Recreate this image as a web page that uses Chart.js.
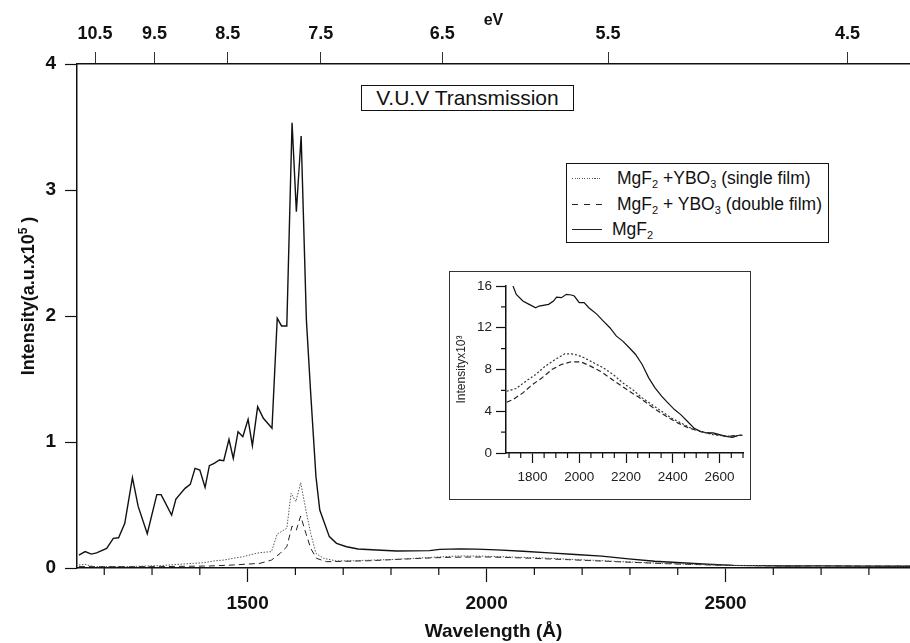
<!DOCTYPE html>
<html>
<head>
<meta charset="utf-8">
<script src="https://cdn.jsdelivr.net/npm/chart.js@4.4.1/dist/chart.umd.min.js"></script>
<style>
    body { margin: 0; background: #fff; }
    #wrap { position: relative; width: 910px; height: 643px; overflow: hidden; font-family: 'Liberation Sans', Arial, sans-serif; color: #111; }
    #main { position: absolute; left: 0; top: 0; }
    #y-title {
        position: absolute; left: 28px; top: 296px; width: 240px; height: 24px;
        margin-left: -120px; margin-top: -12px; transform: rotate(-90deg);
        font-size: 18px; font-weight: bold; line-height: 24px; text-align: center; white-space: nowrap;
    }
    #y-title sup { font-size: 12px; vertical-align: 7px; line-height: 0; }
    #title-box {
        position: absolute; left: 361px; top: 85px; width: 213px; height: 26px;
        box-sizing: border-box; border: 1.5px solid #111;
        font-size: 21px; line-height: 23px; text-align: center; background: #fff;
    }
    #legend {
        position: absolute; left: 566px; top: 163px; width: 263px; height: 80px;
        box-sizing: border-box; border: 1.5px solid #111; background: #fff;
    }
    #legend .row { position: absolute; left: 0; height: 20px; width: 100%; }
    #legend .sample { position: absolute; left: 5px; top: 10px; width: 30px; height: 1px; }
    #legend .txt { position: absolute; top: 0; font-size: 17.5px; line-height: 20px; white-space: nowrap; }
    #legend sub { font-size: 11px; vertical-align: -4px; line-height: 0; }
    .dotted { background: repeating-linear-gradient(to right, #555 0 1px, transparent 1px 2.5px); }
    .dashed { background: repeating-linear-gradient(to right, #222 0 6px, transparent 6px 12px); }
    .solid { background: #222; }
    #inset {
        position: absolute; left: 449px; top: 271px; width: 302px; height: 229px;
        box-sizing: border-box; border: 1.5px solid #333; background: #fff;
    }
    #insetChart { position: absolute; left: 0; top: 0; }
</style>
</head>
<body>
<div id="wrap">
    <canvas id="main" width="910" height="643"></canvas>
    <div id="y-title">Intensity(a.u.x10<sup>5</sup> )</div>
    <div id="title-box">V.U.V Transmission</div>
    <div id="legend">
        <div class="row" style="top:4px"><span class="sample dotted"></span><span class="txt" style="left:50px">MgF<sub>2</sub> +YBO<sub>3</sub> (single film)</span></div>
        <div class="row" style="top:30px"><span class="sample dashed"></span><span class="txt" style="left:50px">MgF<sub>2</sub> + YBO<sub>3</sub> (double film)</span></div>
        <div class="row" style="top:55px"><span class="sample solid"></span><span class="txt" style="left:45px">MgF<sub>2</sub></span></div>
    </div>
    <div id="inset"><canvas id="insetChart" width="299" height="226"></canvas></div>
</div>
<script>
// photon energy <-> wavelength (eV * Angstrom)
const HC = 12398;
const evTicks = [10.5, 9.5, 8.5, 7.5, 6.5, 5.5, 4.5];

// Main plot: wavelength (A) and intensity (a.u. x10^5)
const mgf2Wl = [1147, 1160, 1173, 1184, 1205, 1219, 1230, 1243, 1259, 1271, 1290, 1310, 1319, 1341, 1350,
    1369, 1380, 1390, 1400, 1411, 1420, 1430, 1441, 1450, 1461, 1470, 1480, 1490, 1501, 1510, 1521, 1533,
    1551, 1562, 1571, 1582, 1593, 1602, 1612, 1623, 1632, 1643, 1651, 1671, 1686, 1707, 1731, 1770, 1812,
    1881, 1902, 1945, 1979, 2021, 2076, 2131, 2186, 2241, 2297, 2352, 2407, 2462, 2517, 2572, 2628, 2697,
    2780, 2886];
const mgf2Int = [0.103, 0.13, 0.11, 0.12, 0.156, 0.235, 0.24, 0.354, 0.717, 0.489, 0.272, 0.582, 0.582, 0.42, 0.547,
    0.632, 0.664, 0.791, 0.778, 0.64, 0.812, 0.831, 0.857, 0.852, 1.021, 0.87, 1.082, 1.042, 1.18, 0.971, 1.281, 1.188,
    1.109, 1.982, 1.921, 1.921, 3.534, 2.828, 3.428, 1.968, 1.386, 0.725, 0.46, 0.249, 0.196, 0.169, 0.151, 0.143, 0.135,
    0.138, 0.148, 0.152, 0.150, 0.144, 0.133, 0.120, 0.107, 0.094, 0.072, 0.054, 0.042, 0.030, 0.021, 0.019, 0.016, 0.017,
    0.015, 0.014];

const singleWl = [1147, 1160, 1178, 1247, 1317, 1387, 1408, 1429, 1450, 1470, 1491, 1512, 1526, 1550, 1562,
    1582, 1591, 1601, 1611, 1622, 1632, 1643, 1659, 1686, 1721, 1805, 1902, 1938, 1966, 1993, 2021, 2062,
    2103, 2145, 2186, 2228, 2269, 2310, 2352, 2393, 2434, 2476, 2517, 2572, 2628, 2697, 2780, 2886];
const singleInt = [0.024, 0.029, 0.011, 0.011, 0.019, 0.037, 0.042, 0.056, 0.063, 0.077, 0.090, 0.111, 0.122, 0.130, 0.270,
    0.315, 0.593, 0.527, 0.677, 0.460, 0.275, 0.116, 0.077, 0.056, 0.058, 0.068, 0.088, 0.095, 0.095, 0.094, 0.091, 0.086,
    0.082, 0.075, 0.067, 0.061, 0.053, 0.046, 0.040, 0.034, 0.029, 0.024, 0.021, 0.018, 0.016, 0.017, 0.015, 0.014];

const doubleWl = [1147, 1317, 1421, 1470, 1526, 1550, 1568, 1582, 1593, 1602, 1611, 1622, 1632, 1644, 1665,
    1700, 1759, 1800, 1883, 1924, 1966, 2007, 2048, 2090, 2131, 2172, 2214, 2255, 2297, 2338, 2379, 2421,
    2462, 2503, 2572, 2628, 2697, 2780, 2886];
const doubleInt = [0.011, 0.011, 0.016, 0.024, 0.037, 0.063, 0.116, 0.169, 0.333, 0.302, 0.413, 0.275, 0.156, 0.077, 0.050,
    0.053, 0.058, 0.066, 0.080, 0.085, 0.087, 0.087, 0.083, 0.078, 0.072, 0.066, 0.059, 0.053, 0.046, 0.040, 0.034, 0.029,
    0.025, 0.021, 0.018, 0.016, 0.017, 0.015, 0.014];

// Inset: wavelength (A) and intensity (x10^3)
const insetMgf2Wl = [1717, 1731, 1759, 1786, 1814, 1828, 1869, 1890, 1903, 1924, 1945, 1966, 1979, 2000, 2021,
    2041, 2076, 2103, 2131, 2159, 2186, 2214, 2241, 2269, 2297, 2324, 2352, 2379, 2407, 2434, 2462, 2490,
    2517, 2545, 2572, 2600, 2628, 2655, 2683, 2697];
const insetMgf2Int = [16.0, 15.2, 14.56, 14.24, 13.92, 14.08, 14.24, 14.56, 14.94, 14.88, 15.2, 15.14, 15.04, 14.4, 14.4,
    13.92, 13.28, 12.64, 12.0, 11.2, 10.72, 10.08, 9.44, 8.48, 7.2, 6.24, 5.44, 4.8, 4.16, 3.68, 3.04, 2.4,
    2.08, 1.92, 1.92, 1.76, 1.6, 1.5, 1.7, 1.7];

const insetSingleWl = [1690, 1731, 1772, 1814, 1855, 1897, 1938, 1966, 1993, 2021, 2062, 2103, 2145, 2186, 2228,
    2269, 2310, 2352, 2393, 2434, 2476, 2517, 2572, 2628, 2697];
const insetSingleInt = [5.92, 6.18, 6.88, 7.52, 8.32, 8.96, 9.5, 9.5, 9.38, 9.12, 8.64, 8.16, 7.52, 6.72, 6.08,
    5.28, 4.64, 4.0, 3.36, 2.88, 2.4, 2.08, 1.76, 1.6, 1.7];

const insetDoubleWl = [1690, 1717, 1759, 1800, 1841, 1883, 1924, 1966, 2007, 2048, 2090, 2131, 2172, 2214, 2255,
    2297, 2338, 2379, 2421, 2462, 2503, 2572, 2628, 2697];
const insetDoubleInt = [4.86, 5.12, 5.76, 6.56, 7.2, 8.0, 8.48, 8.74, 8.74, 8.32, 7.84, 7.2, 6.56, 5.92, 5.34,
    4.64, 4.0, 3.42, 2.88, 2.46, 2.14, 1.82, 1.6, 1.7];

const FONT = "'Liberation Sans', Arial, sans-serif";
const INK = '#111';

function toPoints(xs, ys) {
    return xs.map((x, i) => ({ x: x, y: ys[i] }));
}

function isMultiple(v, step) {
    const r = v / step;
    return Math.abs(r - Math.round(r)) < 1e-6;
}

// short ticks between the labelled ones
function minorTickPlugin(spec) {
    return {
        id: 'minorTicks',
        afterDraw(chart) {
            const ctx = chart.ctx;
            Object.keys(spec).forEach(id => {
                const scale = chart.scales[id];
                const s = spec[id];
                ctx.save();
                ctx.strokeStyle = INK;
                ctx.lineWidth = s.width;
                scale.ticks.forEach(t => {
                    if (isMultiple(t.value, s.major)) return;
                    ctx.beginPath();
                    if (scale.isHorizontal()) {
                        const x = scale.getPixelForValue(t.value);
                        ctx.moveTo(x, scale.top);
                        ctx.lineTo(x, scale.top + s.len);
                    } else {
                        const y = scale.getPixelForValue(t.value);
                        ctx.moveTo(scale.right - s.len, y);
                        ctx.lineTo(scale.right, y);
                    }
                    ctx.stroke();
                });
                ctx.restore();
            });
        }
    };
}

function lineSet(label, pts, width, dash, color) {
    return {
        label: label,
        data: pts,
        showLine: true,
        borderColor: color,
        borderWidth: width,
        borderDash: dash,
        pointRadius: 0,
        fill: false,
        tension: 0
    };
}

const X_MIN = 1143;
const X_MAX = 2886;

new Chart(document.getElementById('main'), {
    type: 'scatter',
    data: {
        datasets: [
            lineSet('MgF2 +YBO3 (single film)', toPoints(singleWl, singleInt), 1, [1.5, 1.5], '#555'),
            lineSet('MgF2 + YBO3 (double film)', toPoints(doubleWl, doubleInt), 1, [6, 4], '#222'),
            lineSet('MgF2', toPoints(mgf2Wl, mgf2Int), 1.4, [], INK)
        ]
    },
    options: {
        responsive: false,
        devicePixelRatio: 1,
        animation: false,
        layout: { padding: 0 },
        plugins: { legend: { display: false }, tooltip: { enabled: false } },
        scales: {
            x: {
                type: 'linear',
                position: 'bottom',
                min: X_MIN,
                max: X_MAX,
                afterFit: s => { s.height = 75; },
                ticks: {
                    stepSize: 100,
                    includeBounds: false,
                    autoSkip: false,
                    maxRotation: 0,
                    padding: 10,
                    color: INK,
                    font: { family: FONT, size: 19, weight: 'bold' },
                    callback: v => (isMultiple(v, 500) ? String(v) : '')
                },
                grid: {
                    drawOnChartArea: false,
                    tickLength: 14,
                    tickWidth: 1.2,
                    tickColor: c => (c.tick && isMultiple(c.tick.value, 500) ? INK : 'rgba(0,0,0,0)')
                },
                border: { color: INK, width: 1.5 },
                title: {
                    display: true,
                    text: 'Wavelength (Å)',
                    color: INK,
                    font: { family: FONT, size: 19, weight: 'bold', lineHeight: 1.2 },
                    padding: { top: 0, bottom: 0 }
                }
            },
            x2: {
                type: 'linear',
                position: 'top',
                min: X_MIN,
                max: X_MAX,
                afterFit: s => { s.height = 64; },
                afterBuildTicks: s => { s.ticks = evTicks.map(e => ({ value: HC / e })); },
                ticks: {
                    autoSkip: false,
                    maxRotation: 0,
                    padding: 7,
                    color: INK,
                    font: { family: FONT, size: 18, weight: 'bold' },
                    callback: v => (HC / v).toFixed(1)
                },
                grid: { drawOnChartArea: false, tickLength: 12, tickWidth: 1, tickColor: '#333' },
                border: { color: INK, width: 1.5 },
                title: {
                    display: true,
                    text: 'eV',
                    color: INK,
                    font: { family: FONT, size: 16, weight: 'bold', lineHeight: 1.2 },
                    padding: { top: 11, bottom: 0 }
                }
            },
            y: {
                type: 'linear',
                min: 0,
                max: 4,
                afterFit: s => { s.width = 77; },
                ticks: {
                    stepSize: 1,
                    padding: 9,
                    color: INK,
                    font: { family: FONT, size: 19, weight: 'bold' }
                },
                grid: { drawOnChartArea: false, tickLength: 12, tickWidth: 1.2, tickColor: INK },
                border: { color: INK, width: 1.5 }
            }
        }
    },
    plugins: [minorTickPlugin({ x: { major: 500, len: 7, width: 1.2 } })]
});

new Chart(document.getElementById('insetChart'), {
    type: 'scatter',
    data: {
        datasets: [
            lineSet('single', toPoints(insetSingleWl, insetSingleInt), 1.2, [2, 2], '#333'),
            lineSet('double', toPoints(insetDoubleWl, insetDoubleInt), 1.2, [5, 3], '#222'),
            lineSet('MgF2', toPoints(insetMgf2Wl, insetMgf2Int), 1.2, [], INK)
        ]
    },
    options: {
        responsive: false,
        devicePixelRatio: 1,
        animation: false,
        layout: { padding: { top: 14, right: 0, left: 0, bottom: 0 } },
        plugins: { legend: { display: false }, tooltip: { enabled: false } },
        scales: {
            x: {
                type: 'linear',
                min: 1687,
                max: 2700,
                afterFit: s => { s.height = 45; },
                ticks: {
                    stepSize: 50,
                    includeBounds: false,
                    autoSkip: false,
                    maxRotation: 0,
                    padding: 6,
                    color: '#222',
                    font: { family: FONT, size: 13.5 },
                    callback: v => (isMultiple(v, 200) ? String(v) : '')
                },
                grid: {
                    drawOnChartArea: false,
                    tickLength: 10,
                    tickWidth: 1.2,
                    tickColor: c => (c.tick && isMultiple(c.tick.value, 200) ? INK : 'rgba(0,0,0,0)')
                },
                border: { color: INK, width: 1.5 }
            },
            y: {
                type: 'linear',
                min: 0,
                max: 16,
                afterFit: s => { s.width = 56; },
                ticks: {
                    stepSize: 2,
                    padding: 4,
                    color: '#222',
                    font: { family: FONT, size: 13.5 },
                    callback: v => (isMultiple(v, 4) ? String(v) : '')
                },
                grid: {
                    drawOnChartArea: false,
                    tickLength: 10,
                    tickWidth: 1.2,
                    tickColor: c => (c.tick && isMultiple(c.tick.value, 4) ? INK : 'rgba(0,0,0,0)')
                },
                border: { color: INK, width: 1.5 },
                title: {
                    display: true,
                    text: 'Intensityx10³',
                    color: '#222',
                    font: { family: FONT, size: 12, lineHeight: 1.2 },
                    padding: { top: 4, bottom: 0 }
                }
            }
        }
    },
    plugins: [minorTickPlugin({ x: { major: 200, len: 5, width: 1.2 }, y: { major: 4, len: 5, width: 1.2 } })]
});
</script>
</body>
</html>
